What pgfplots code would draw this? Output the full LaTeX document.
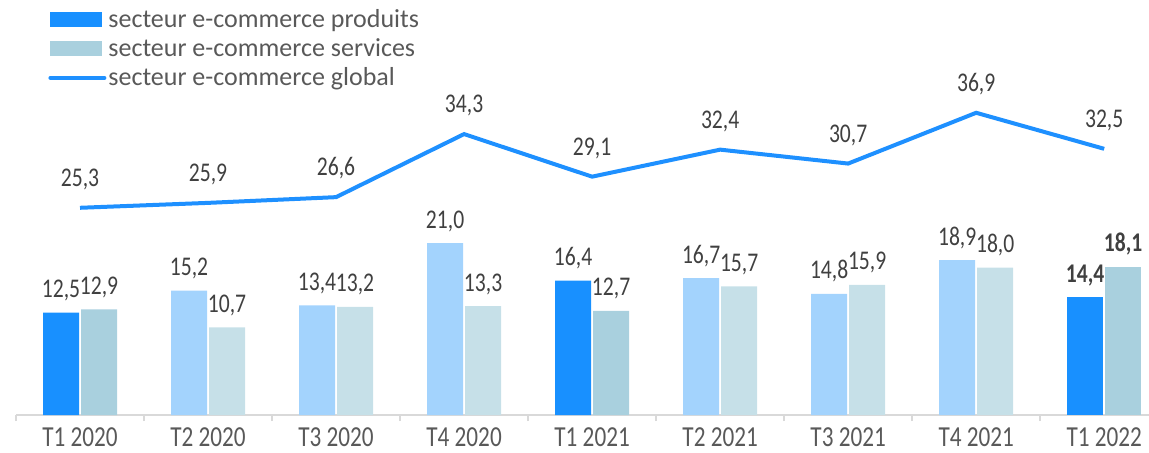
\documentclass[border=0pt]{standalone}
\usepackage{fontspec}
\setmainfont{Carlito}
\newfontfamily\condfont[FakeStretch=0.8]{Carlito}
\usepackage{pgfplots}
\pgfplotsset{compat=1.18}
\definecolor{pdark}{RGB}{24,144,255}
\definecolor{plight}{RGB}{163,211,253}
\definecolor{sdark}{RGB}{169,208,222}
\definecolor{slight}{RGB}{198,224,232}
\definecolor{gline}{RGB}{30,144,255}
\definecolor{lbl}{RGB}{64,64,64}
\definecolor{txt}{RGB}{89,89,89}
\definecolor{axgray}{RGB}{217,217,217}
\tikzset{
  lab/.style={font=\condfont\fontsize{13.5}{15}\selectfont, text=lbl, anchor=base, inner sep=0pt},
}
\begin{document}
\begin{tikzpicture}
\useasboundingbox (0,0) rectangle (574.5pt,226pt);
\begin{axis}[
  at={(8pt,18.5pt)}, anchor=south west,
  scale only axis, width=566.5pt, height=207.5pt,
  xmin=-0.5, xmax=8.35, ymin=0, ymax=50.67,
  clip=false,
  axis x line=bottom, axis y line=none,
  x axis line style={draw=axgray, line width=1pt, -},
  xtick={0,...,8},
  xticklabels={T1 2020,T2 2020,T3 2020,T4 2020,T1 2021,T2 2021,T3 2021,T4 2021,T1 2022},
  major tick length=0pt,
  extra x ticks={-0.5,0.5,...,7.5},
  extra x tick labels={},
  extra x tick style={major tick length=3pt, tick align=outside, tick style={draw=axgray, line width=1pt}},
  xticklabel style={font=\condfont\fontsize{14.5}{16}\selectfont, text=txt, yshift=-3pt},
  /pgf/number format/assume math mode=true,
  /pgf/number format/.cd, use comma, fixed, fixed zerofill, precision=1, /pgfplots/.cd,
  legend style={at={(axis description cs:0,1)}, anchor=north west, xshift=16pt, yshift=-3.5pt,
     draw=none, fill=none, inner sep=0pt, row sep=2pt,
     font=\fontsize{13}{15}\selectfont, text=txt,
     nodes={inner sep=1pt, anchor=west}},
  legend cell align=left,
]
% produits dark (legend)
\addplot[ybar, bar width=18pt, bar shift=-9.5pt, fill=pdark, draw=none, nodes near coords,
  every node near coord/.style={lab, xshift=-9.5pt, yshift=7.5pt},
  legend image code/.code={\fill[pdark] (0pt,-3.75pt) rectangle (26pt,3.75pt);}]
  coordinates {(0,12.5) (4,16.4)};
\addlegendentry{secteur e-commerce produits}
% services dark (legend)
\addplot[ybar, bar width=18pt, bar shift=9.5pt, fill=sdark, draw=none, nodes near coords,
  every node near coord/.style={lab, xshift=9.5pt, yshift=7.5pt},
  legend image code/.code={\fill[sdark] (0pt,-3.75pt) rectangle (26pt,3.75pt);}]
  coordinates {(0,12.9) (4,12.7)};
\addlegendentry{secteur e-commerce services}
% global line
\addplot[gline, line width=2pt, sharp plot, mark=none, nodes near coords,
  every node near coord/.style={lab, yshift=10.75pt},
  legend image code/.code={\draw[gline, line width=2pt, line cap=round] (0pt,0pt) -- (27pt,0pt);}]
  coordinates {(0,25.3) (1,25.9) (2,26.6) (3,34.3) (4,29.1) (5,32.4) (6,30.7) (7,36.9) (8,32.5)};
\addlegendentry{secteur e-commerce global}
% produits light
\addplot[ybar, bar width=18pt, bar shift=-9.5pt, fill=plight, draw=none, nodes near coords, forget plot,
  every node near coord/.style={lab, xshift=-9.5pt, yshift=7.5pt}]
  coordinates {(1,15.2) (2,13.4) (3,21.0) (5,16.7) (6,14.8) (7,18.9)};
% services light
\addplot[ybar, bar width=18pt, bar shift=9.5pt, fill=slight, draw=none, nodes near coords, forget plot,
  every node near coord/.style={lab, xshift=9.5pt, yshift=7.5pt}]
  coordinates {(1,10.7) (2,13.2) (3,13.3) (5,15.7) (6,15.9) (7,18.0)};
% T1 2022 bold
\addplot[ybar, bar width=18pt, bar shift=-9.5pt, fill=pdark, draw=none, nodes near coords, forget plot,
  every node near coord/.style={lab, font=\condfont\fontsize{13.5}{15}\selectfont\bfseries, xshift=-9.5pt, yshift=7.5pt}]
  coordinates {(8,14.4)};
\addplot[ybar, bar width=18pt, bar shift=9.5pt, fill=sdark, draw=none, nodes near coords, forget plot,
  every node near coord/.style={lab, font=\condfont\fontsize{13.5}{15}\selectfont\bfseries, xshift=9.5pt, yshift=7.5pt}]
  coordinates {(8,18.1)};
\end{axis}
\end{tikzpicture}
\end{document}
